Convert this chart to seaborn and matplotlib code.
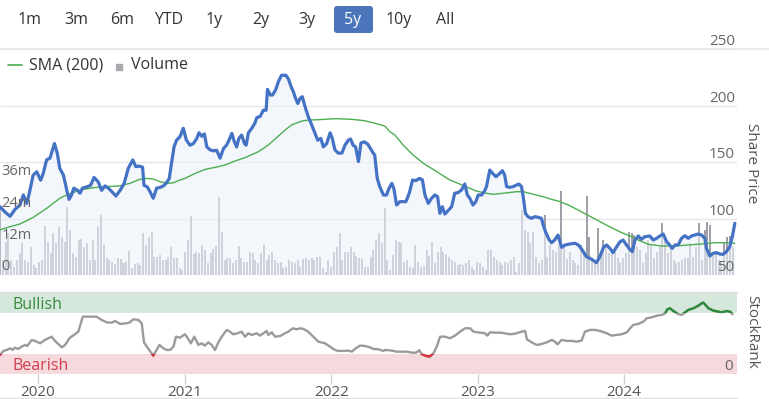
import numpy as np
import pandas as pd
import matplotlib
matplotlib.use("Agg")
import matplotlib.pyplot as plt
import matplotlib.dates as mdates
import matplotlib.transforms as mtransforms
from matplotlib.lines import Line2D
from matplotlib.patches import FancyBboxPatch
import seaborn as sns

# weeks are counted from the first day shown in the 5y window
START = pd.Timestamp("2019-09-28")
END = START + pd.Timedelta(days=1838)

price_weeks = [
    0, 1.7, 3.6, 5.3, 7.1, 8.3, 9.5, 10.4, 11.8, 13.1, 14.5, 15.4, 16.6, 17.8, 19.4, 20.4,
    21.3, 22.6, 23.8, 24.6, 25.5, 26.3, 27.6, 28.5, 29.4, 30.8, 32.3, 33.5, 35.0, 36.2,
    37.4, 38.6, 39.8, 41.3, 42.8, 44.2, 45.7, 47.3, 48.4, 49.6, 50.8, 51.3, 52.5, 53.4,
    54.6, 55.8, 57.0, 58.2, 59.1, 60.3, 61.1, 62.0, 62.9, 64.1, 65.3, 66.4, 67.7,
    68.9, 70.1, 70.9, 71.9, 72.8, 73.7, 74.8, 76.0, 77.2, 78.4, 79.6, 80.7, 81.6, 82.6,
    83.5, 84.3, 85.1, 86.1, 87.1, 87.7, 88.5, 89.7, 90.8, 91.5, 92.7, 93.8, 94.8, 95.3,
    96.3, 97.1, 98.2, 99.2, 100.3, 101.8, 102.7, 103.7, 104.5, 105.3, 106.1, 106.9, 107.7,
    108.7, 109.8, 110.8, 112.0, 113.2, 114.3, 115.2, 116.4, 117.6, 118.4, 119.3, 120.5,
    121.8, 122.9, 124.1, 124.9, 125.8, 126.7, 127.7, 128.6, 129.8, 131.0, 132.0, 133.0,
    133.5, 134.4, 135.3, 136.6, 137.7, 138.6, 139.6, 140.3, 141.3, 142.5, 143.6, 144.6,
    145.8, 147.0, 148.1, 149.5, 150.5, 151.4, 152.6, 153.7, 154.9, 155.9, 156.7, 157.6,
    158.5, 159.6, 160.9, 162.0, 163.2, 164.4, 165.6, 166.5, 167.4, 168.5, 169.5, 170.4,
    171.6, 172.7, 173.3, 174.5, 175.5, 176.7, 177.8, 179.0, 179.8, 180.5, 181.6, 182.8,
    184.0, 184.9, 185.8, 186.4, 187.2, 188.1, 189.3, 190.6, 191.7, 192.9, 193.7, 194.6,
    195.7, 196.5, 197.6, 198.8,
    200.1, 201.3, 203.0, 204.9, 206.0, 206.6, 207.8, 208.9, 210.8, 212.5, 213.7, 215.0,
    216.1, 217.3, 218.4, 219.7, 220.9, 222.0, 223.2, 224.4, 225.3, 226.2, 227.4, 228.5,
    229.8, 231.5, 232.7, 233.9, 235.1, 236.3, 237.5, 238.6, 239.5, 240.5, 241.6, 242.8,
    244.0, 245.2, 246.4, 247.5, 248.7, 250.0, 251.1, 251.7, 252.9, 254.0, 255.3, 256.5,
    257.6, 258.8, 260.0, 260.9, 261.8,
]
price_values = [
    110.5, 106, 102, 108, 112, 121, 113.5, 122, 138.5, 141.5, 134, 140, 152, 153.5, 166.5,
    158, 144.5, 138.5, 125, 117, 121, 127, 125, 122.5, 127, 128, 129.5, 136.5, 132.5, 125,
    129, 127, 124, 120, 125, 131, 144.5, 152, 146, 146.5, 145.5, 129.5, 128, 124, 118, 127,
    127.5, 129, 131, 135.5, 149, 163.5, 169.5, 172.5, 180, 169.5, 165,
    166.5, 171, 176, 173, 175, 163.5, 161, 160, 160.5, 153.5, 162, 165, 169.5, 175.5, 168,
    163.5, 171, 174, 166.5, 165, 176, 180, 184.5, 189.5, 190.5, 196, 196, 214.5, 209.5,
    209.5, 214, 221.5, 227, 227, 224, 217, 212.5, 206.5, 202, 206.5, 208, 199, 190.5, 184.5,
    177, 169.5, 171, 163.5, 166.5, 176, 171, 161, 158, 158, 165, 169.5, 170.5, 165, 163.5,
    150.5, 167, 168, 166, 162, 158,
    156.3, 135.6, 128.3, 120.9, 120.9, 126.8, 131.2, 126.8, 112, 115, 115, 115, 122.4, 134.2,
    133.6, 135.6, 134.2, 120.9, 113.5, 117.9, 120.9, 119.4, 104.6, 110.5, 104, 107, 110.5,
    122.4, 123, 125.3, 130.6, 120.9, 117.9, 112, 115, 120.9, 120.9, 124.7, 128.3, 143, 140.1,
    137.1, 139.5, 142.4, 138.6, 128.3, 127.7, 128.3, 129.7, 130.6, 128.3, 119.4, 104.6,
    101.7, 100.2, 101.7, 101.1, 100.2, 92.8, 86.9, 81, 78.6, 81, 85.4,
    74.5, 76.6, 77.5, 78.1, 76.6, 75.1, 70.7, 66.2, 63.9, 60.9, 66.2, 74.5, 76.6, 73.6, 69.8,
    75.1, 79.5, 81, 76.6, 72.7, 70.7, 81, 84.6, 81.6, 84, 84.6, 81, 82.5, 84.6, 86.3, 79.5,
    76.6, 73.6, 76.6, 76.6, 82.5, 84.8, 82.5, 84.6, 85.4, 86.3, 85.4, 82.5, 73.6, 66.8, 69.2,
    69.8, 68.6, 68.3, 70.7, 75.1, 84, 95.8,
]

sma_weeks = [
    0, 3.6, 7.1, 11.8, 16.6, 21.3, 23.8, 28.5, 33.3, 38.0, 42.8, 46.2, 49.8, 52.3, 54.6,
    57.0, 59.9, 61.8, 64.1, 65.9, 69.5, 73.1, 77.8, 80.2, 83.7, 87.3, 92.1, 95.6, 99.2,
    101.6, 103.9, 107.5, 109.8, 113.4, 119.3, 125.2, 130.0, 133.6, 137.1, 138.9, 140.7,
    143.6, 147.2, 150.8, 155.6, 160.2, 163.8, 167.4, 169.7, 173.3, 175.7, 179.2, 184.0,
    186.4, 188.7, 193.5, 196.5, 198.8, 202.5, 207.2, 212.0, 216.7, 221.5, 225.0, 227.4,
    231.0, 235.7, 240.5, 245.2, 250.0, 254.7, 259.5, 261.8,
]
sma_values = [
    90, 92.8, 95.2, 101, 109, 118, 121, 125.3, 127.4, 128.3, 129, 131.2, 134.8, 135.6, 135,
    132.7, 131.2, 131.8, 134.2, 135.6, 140, 143.6, 146, 147.5, 151, 154, 159.3, 165.2,
    173.2, 178.5, 183, 186.4, 187.3, 187.6, 188.5, 188, 186.7, 184.4, 182, 177, 174, 165.2,
    156.3, 149, 141.6, 134.2, 130.6, 126.8, 124.4, 122.4, 121.5, 122.4, 123.8, 123.8,
    122.4, 119.4, 117, 115.6, 112, 106, 99.6, 93.4, 87.5, 84, 81, 77.2, 75.7, 75.7, 76.6,
    77.5, 78.6, 78.6, 78.1,
]

# weekly volume, millions of shares
volume_m = [
    25.9, 5.7, 12.6, 15.8, 5.7, 3.2, 5.7, 8.2, 12, 5.7, 5, 10.7, 3.8, 2.5, 5, 5.7, 18.6,
    12.6, 8.2, 15.8, 12, 18.3, 14.5, 12.6, 25.9, 17, 8.2, 6.9, 13.3, 13.5, 10.7, 12, 5.7,
    13.3, 5.7, 18.3, 22.7, 11.4, 6.3, 5.7, 5, 4.2, 6.3, 5.9, 4.4, 5, 9.2, 2.5, 4.2, 4.4,
    3.8, 15.8, 11.4, 14.5, 16.4, 6.9, 6.9, 7.6, 5.7, 5.7, 6.9, 10.7, 6.3, 6.3, 2.5, 1.9,
    8.8, 13.3,
    22.3, 7.8, 8.8, 8.2, 11.4, 9.5, 4.4, 8.2, 9.7, 11.0, 29.7, 16.4, 5.7, 6.3, 6.3, 4.4,
    5.7, 11.0, 6.3, 5.0, 5.0, 8.8, 8.2, 5.7, 4.4, 8.2, 11.4, 5.7, 7.6, 8.8, 5.7, 4.4, 5.0,
    2.5, 3.2, 5.7, 5.0, 4.4, 5.7, 3.2, 5.9, 6.3, 5.7, 6.3, 5.7, 6.9, 6.9, 2.5, 1.3, 5.7,
    3.2, 8.8, 10.7, 15.8, 5.7, 8.8, 8.8, 10.7, 8.8, 7.2, 6.3, 5.9, 3.2, 3.2, 6.9, 9.5,
    13.3, 15.8, 12.0, 25.2, 5.7, 1.9, 7.6, 13.3, 12.6, 12.0, 5.0, 5.7, 3.2, 2.5, 11.4, 5.0,
    3.2, 3.4, 9.5, 7.2, 12.6, 4.4, 8.8, 10.5, 8.8, 7.8, 6.9, 5.7, 5.0, 3.8, 4.2, 3.8, 4.4,
    5.7, 3.2, 1.9, 5.0, 4.4, 3.2, 1.9, 9.5, 9.5, 6.9, 5.7, 5.0, 3.8, 5.0, 4.7, 5.7, 6.7,
    1.3, 4.4, 24.6, 17.0, 16.4, 12.0, 16.4, 6.9, 4.4, 5.7, 22.7, 6.9, 11.4, 9.5, 8.8, 11.4,
    31.8, 11.4, 5.9, 8.8, 5.7, 4.4, 3.8, 11.4, 7.6, 29.9, 14.5, 6.3, 5.7, 17.7, 7.6, 13.3,
    11.4, 8.2, 8.2, 8.8, 6.3, 4.4, 6.3, 8.2, 16.4, 15.8, 15.1, 10.7, 9.5, 4.4, 8.2, 13.3,
    11.4, 6.3, 8.8, 10.7, 19.6, 13.3, 8.2, 10.7, 5.7, 4.4, 5.0, 5.7, 6.3, 6.3, 12.2, 6.9,
    10.7, 19.8, 5.7, 17.0, 20.2, 18.9, 8.8, 8.2, 5.7, 4.4, 12.6, 14.5, 14.8, 10.7,
]

rank_weeks = [
    0, 1.2, 2.4, 3.6, 4.5, 5.3, 6.5, 7.7, 8.9, 9.7, 11.3, 12.5, 14.3, 16.0, 18.4, 19.6,
    22.0, 23.2, 24.9, 26.7, 27.9, 29.5, 30.9, 32.7, 34.4, 36.2, 38.0, 39.8, 41.0, 42.8,
    45.1, 46.3, 47.5, 49.3, 50.5, 51.3, 52.3, 53.4, 54.6, 55.8, 56.8, 58.2, 59.4, 60.6,
    61.8, 62.7, 64.1, 65.9, 66.9, 68.0, 69.2, 70.7, 71.8, 73.0, 74.2, 75.4, 76.6, 77.8,
    79.0, 80.8, 81.9, 83.1, 84.6, 86.1, 87.3, 88.5, 89.7, 91.4, 92.6, 93.8, 95.0, 95.6,
    96.8, 98.0, 99.8, 101.5, 102.7, 104.3, 105.7, 106.9, 108.1, 109.8, 111.6, 113.4, 115.8,
    117.6, 119.3, 120.5, 122.3, 124.1, 125.3, 127.1, 128.3, 130.0, 131.8, 133.0, 134.8,
    136.6, 137.2, 139.6, 141.3, 143.1, 144.9, 146.7, 148.2, 149.4, 150.2, 151.4, 153.0,
    154.4, 155.6, 156.8, 158.6, 160.3, 162.1, 163.9, 165.7, 167.5, 168.7, 171.0, 172.8,
    173.6, 174.6, 176.4, 178.2, 179.9, 181.7, 183.5, 185.9, 187.1, 187.7, 189.4, 191.2,
    193.0, 194.8, 196.6, 197.7, 198.6, 200.1, 201.9, 203.7, 205.5, 207.2, 208.4, 210.2,
    212.0, 213.8, 216.2, 217.9, 219.7, 221.5, 223.3, 224.5, 225.6, 227.4, 229.2, 230.4,
    232.2, 234.0, 235.7, 236.9, 237.8, 238.7, 239.9, 241.7, 242.9, 244.1, 245.2, 247.0,
    248.8, 250.0, 250.6, 252.4, 254.2, 255.9, 257.1, 258.9, 260.1, 261.0,
]
rank_values = [
    23.6, 28.5, 29.7, 31.7, 29.7, 32.5, 30.9, 33.7, 35.8, 34.6, 41.9, 40.7, 37.8, 41.9,
    45.9, 40.7, 32.9, 35.8, 44.7, 48.8, 52.0, 70.3, 70.3, 70.3, 70.3, 66.3, 63.4, 63.0,
    65.0, 61.4, 62.2, 63.4, 67.1, 66.3, 62.2, 39.0, 33.7, 28.5, 22.8, 29.7, 35.8, 31.7,
    29.7, 29.7, 33.7, 45.9, 44.7, 48.8, 43.9, 37.8, 45.9, 35.8, 37.8, 35.0, 39.0, 35.8,
    29.7, 39.0, 45.9, 54.1, 52.0, 48.8, 50.0, 52.0, 45.9, 50.0, 48.0, 50.0, 47.2, 50.0,
    52.8, 48.0, 51.2, 45.9, 46.7, 50.0, 52.0, 56.1, 54.9, 56.1, 55.3, 52.0, 45.9, 39.8,
    37.8, 33.7, 29.7, 28.5, 28.5, 28.9, 27.6, 32.5, 35.0, 34.6, 32.9, 30.9, 30.5, 28.5,
    29.7, 28.9, 27.6, 27.6, 27.6, 26.4, 26.4, 29.3, 24.8, 22.8, 21.5, 25.6, 33.7, 45.9,
    45.9, 43.9, 47.2, 52.0, 56.1, 56.1, 52.0, 50.8, 50.0, 47.2, 51.2, 50.8, 50.8, 50.0,
    48.8, 49.6, 52.0, 52.8, 42.7, 39.0, 35.8, 37.0, 39.0, 41.9, 39.8, 36.6, 41.9, 40.7,
    40.7, 39.8, 41.1, 52.0, 54.1, 54.1, 52.8, 50.0, 47.2, 48.0, 48.8, 51.2, 56.1, 60.2,
    61.4, 64.2, 68.3, 69.5, 71.5, 72.4, 74.0, 79.3, 80.5, 77.2, 73.2, 72.4, 75.6, 78.5,
    80.5, 83.7, 86.6, 87.4, 80.5, 77.6, 76.4, 75.6, 77.2, 76.4, 73.2,
]

year_ticks = [2020, 2021, 2022, 2023, 2024]
price_ticks = [50, 100, 150, 200, 250]
volume_ticks = [0, 12, 24, 36]
range_buttons = ["1m", "3m", "6m", "YTD", "1y", "2y", "3y", "5y", "10y", "All"]
selected_range = "5y"
bearish_level, bullish_level = 25, 75


def to_dates(weeks):
    return START + pd.to_timedelta(np.asarray(weeks, dtype=float) * 7, unit="D")


price_dates = to_dates(price_weeks)
sma_dates = to_dates(sma_weeks)
rank_dates = to_dates(rank_weeks)
vol_dates = to_dates(np.arange(len(volume_m)))

sns.set_theme(style="white")
plt.rcParams["font.family"] = ["Open Sans", "DejaVu Sans"]

W, H = 769, 399
fig = plt.figure(figsize=(W / 100, H / 100), dpi=100)


def px_box(x0, y0, x1, y1):
    return [x0 / W, 1 - y1 / H, (x1 - x0) / W, (y1 - y0) / H]


def fx(x):
    return x / W


def fy(y):
    return 1 - y / H


GRID = "#e6e6e6"
LABEL = "#666666"

# ---- price / volume panel
ax_vol = fig.add_axes(px_box(0, 49.3, 737, 275))
ax_px = ax_vol.twinx()
for a in (ax_vol, ax_px):
    a.set_xlim(START, END)
    a.set_axis_off()
ax_vol.set_ylim(0, 85.4)
ax_px.set_ylim(50, 250)

grid_tr = mtransforms.blended_transform_factory(ax_vol.transAxes, ax_px.transData)
for v in price_ticks:
    ax_vol.add_line(Line2D([0, 1], [v, v], transform=grid_tr, color=GRID, lw=1, zorder=0))

ax_vol.bar(vol_dates, volume_m, width=5, color="#a0a1a8", linewidth=0, zorder=1)

# translucent area under the price line washes out the bars below it
ax_px.fill_between(price_dates, price_values, 50, color="#edf1f9", alpha=0.62, lw=0)
sns.lineplot(x=sma_dates, y=sma_values, ax=ax_px, color="#4caf50", lw=1.0, estimator=None)
sns.lineplot(x=price_dates, y=price_values, ax=ax_px, color="#4472c4", lw=2.3, estimator=None)

lab_px = mtransforms.offset_copy(
    mtransforms.blended_transform_factory(ax_px.transAxes, ax_px.transData),
    fig=fig, y=7.5, units="dots")
for v in price_ticks:
    ax_px.text(0.997, v, str(v), transform=lab_px, ha="right", va="center",
               fontsize=11, color=LABEL)

# volume labels sit on the top axes so the area fill does not cover them
lab_vol = mtransforms.offset_copy(
    mtransforms.blended_transform_factory(ax_px.transAxes, ax_vol.transData),
    fig=fig, y=8, units="dots")
for v in volume_ticks:
    ax_px.text(0.002, v, f"{v}m" if v else "0", transform=lab_vol, ha="left",
               va="center", fontsize=10.5, color=LABEL)

# ---- StockRank panel
ax_rank = fig.add_axes(px_box(0, 292.3, 737, 374.3))
ax_rank.set_xlim(START, END)
ax_rank.set_ylim(0, 100)
bull = ax_rank.axhspan(bullish_level, 100, color="#d4e9dc", lw=0)
bear = ax_rank.axhspan(0, bearish_level, color="#f6d9dc", lw=0)

sns.lineplot(x=rank_dates, y=rank_values, ax=ax_rank, color="#9a9a9a", lw=1.7, estimator=None)
g_line, = ax_rank.plot(rank_dates, rank_values, color="#2e8b3a", lw=1.7)
g_line.set_clip_path(bull)
r_line, = ax_rank.plot(rank_dates, rank_values, color="#d8343f", lw=1.7)
r_line.set_clip_path(bear)

rank_tr = mtransforms.blended_transform_factory(ax_rank.transAxes, ax_rank.transData)
ax_rank.text(0.017, 84, "Bullish", transform=rank_tr, ha="left", va="center",
             fontsize=11.5, color="#3a8a3e")
ax_rank.text(0.017, 10, "Bearish", transform=rank_tr, ha="left", va="center",
             fontsize=11.5, color="#d23f4d")
ax_rank.text(0.995, 10, "0", transform=rank_tr, ha="right", va="center",
             fontsize=11, color=LABEL)

ax_rank.set_xticks(mdates.date2num([pd.Timestamp(f"{y}-01-01") for y in year_ticks]))
ax_rank.set_xticklabels([str(y) for y in year_ticks])
ax_rank.set_yticks([])
ax_rank.set_xlabel("")
ax_rank.set_ylabel("")
ax_rank.tick_params(axis="x", length=7, width=1, color="#d0d0d0", pad=1,
                    labelsize=11, labelcolor="#555555", bottom=True)
for side in ("left", "right", "bottom"):
    ax_rank.spines[side].set_visible(False)
ax_rank.spines["top"].set_color("#e0e0e0")
ax_rank.spines["top"].set_linewidth(1)

# ---- side titles
fig.text(fx(751), fy(163), "Share Price", rotation=270, ha="center", va="center",
         fontsize=11, color="#555555")
fig.text(fx(752), fy(332), "StockRank", rotation=270, ha="center", va="center",
         fontsize=11, color="#555555")

# ---- legend
fig.add_artist(Line2D([fx(8), fx(22)], [fy(65), fy(65)], color="#4caf50", lw=1.2))
fig.text(fx(29), fy(65), "SMA (200)", ha="left", va="center", fontsize=11.5, color="#333333")
fig.add_artist(Line2D([fx(119)], [fy(66.5)], marker="s", markersize=5, color="#a8a9ae", lw=0))
fig.text(fx(131), fy(65), "Volume", ha="left", va="center", fontsize=11.5, color="#333333")

# ---- range selector
for i, lab in enumerate(range_buttons):
    cx = 30 + 46.1 * i
    col = "#333333"
    if lab == selected_range:
        fig.add_artist(FancyBboxPatch(
            (334 / 100, (H - 33) / 100), 0.39, 0.27,
            boxstyle="round,pad=0,rounding_size=0.03",
            transform=fig.dpi_scale_trans, fc="#4a75bb", ec="none"))
        col = "white"
    fig.text(fx(cx), fy(19.5), lab, ha="center", va="center", fontsize=11.5, color=col)

# separators
fig.add_artist(Line2D([0, 1], [fy(48.5), fy(48.5)], color="#e6e6e6", lw=1.2))
fig.add_artist(Line2D([0, fx(737)], [fy(397.5), fy(397.5)], color="#e0e0e0", lw=1))

fig.savefig("out.png", dpi=100)
